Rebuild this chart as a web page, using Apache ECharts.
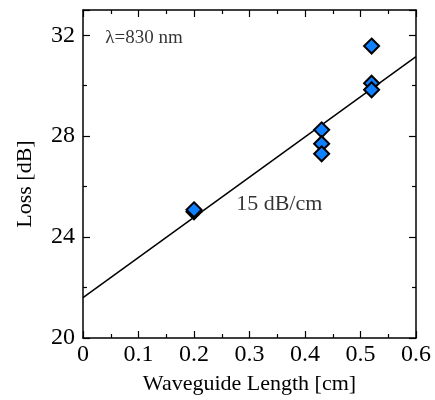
<!DOCTYPE html>
<html><head><meta charset="utf-8">
<script src="https://cdn.jsdelivr.net/npm/echarts@6/dist/echarts.min.js"></script>
<style>html,body{margin:0;padding:0;background:#fff}#c{width:435px;height:400px}</style>
</head><body><div id="c"></div>
<script>
const lengths = [0.2, 0.2, 0.43, 0.43, 0.43, 0.52, 0.52, 0.52];
const losses  = [25.0, 25.08, 28.25, 27.7, 27.3, 31.57, 30.1, 29.84];
const fitX = [0, 0.6];
const fitY = [21.6, 31.15];
const xTicks = [0, 0.1, 0.2, 0.3, 0.4, 0.5, 0.6];
const yTicks = [20, 24, 28, 32];
const annX = [0.04, 0.276];
const annY = [31.87, 25.31];
const annText = ['λ=830 nm', '15 dB/cm'];
const annSize = [19, 22];

const F = 'Liberation Serif';
const chart = echarts.init(document.getElementById('c'));
const axisCommon = {
  axisLine: {show: true, onZero: false, lineStyle: {color: '#000', width: 1.5}},
  axisTick: {show: true, inside: true, length: 7, lineStyle: {color: '#000', width: 1.2}},
  minorTick: {show: true, splitNumber: 2, length: 4, lineStyle: {color: '#000', width: 1.2}},
  splitLine: {show: false}
};
chart.setOption({
  animation: false,
  grid: {left: 83, right: 19, top: 10, bottom: 58},
  xAxis: [
    Object.assign({type: 'value', min: 0, max: 0.6, interval: 0.1, position: 'bottom',
      name: 'Waveguide Length [cm]', nameLocation: 'middle', nameGap: 35,
      nameTextStyle: {fontFamily: F, fontSize: 22, color: '#000'},
      axisLabel: {fontFamily: F, fontSize: 24, color: '#000', margin: 5,
        formatter: v => xTicks.includes(+v.toFixed(2)) ? String(+v.toFixed(1)) : ''}}, axisCommon),
    Object.assign({type: 'value', min: 0, max: 0.6, interval: 0.1, position: 'top',
      axisLabel: {show: false}}, axisCommon)
  ],
  yAxis: [
    Object.assign({type: 'value', min: 20, max: 33, interval: 4, position: 'left',
      name: 'Loss [dB]', nameLocation: 'middle', nameGap: 47,
      nameTextStyle: {fontFamily: F, fontSize: 22, color: '#000', padding: [0, 20, 0, 0]},
      axisLabel: {fontFamily: F, fontSize: 24, color: '#000', margin: 8,
        formatter: v => yTicks.includes(v) ? String(v) : ''}}, axisCommon),
    Object.assign({type: 'value', min: 20, max: 33, interval: 4, position: 'right',
      axisLabel: {show: false}}, axisCommon)
  ],
  series: [
    {type: 'line', data: fitX.map((x, i) => [x, fitY[i]]), symbol: 'none',
     lineStyle: {color: '#000', width: 1.5}, z: 1},
    {type: 'scatter', data: lengths.map((x, i) => [x, losses[i]]), symbol: 'diamond', symbolSize: 15,
     itemStyle: {color: '#0f80ff', borderColor: '#000', borderWidth: 2, opacity: 1}, z: 3},
    {type: 'scatter', data: annX.map((x, i) => ({value: [x, annY[i]],
       label: {show: true, position: 'right', distance: 0, formatter: annText[i],
       fontFamily: F, fontSize: annSize[i], color: '#000'}})),
     symbolSize: 0, silent: true, z: 4}
  ]
});
</script></body></html>
